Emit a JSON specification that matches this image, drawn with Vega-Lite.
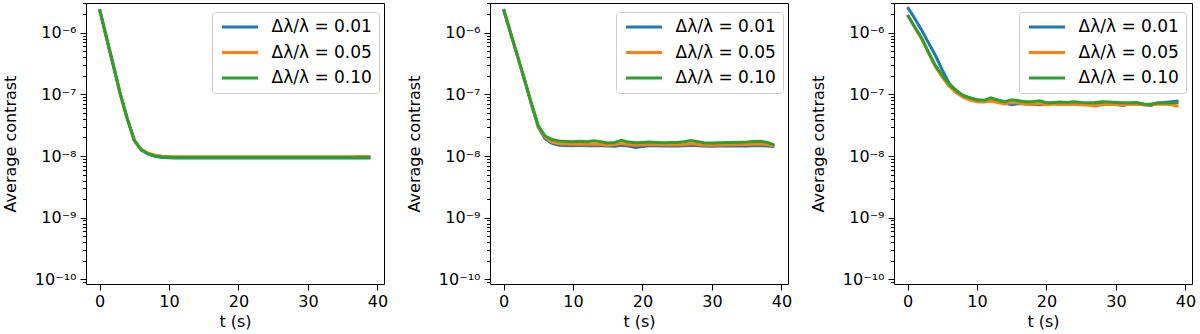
{
"$schema": "https://vega.github.io/schema/vega-lite/v6.json",
"padding": {"left": 1, "top": 0, "right": 5, "bottom": 0},
"datasets": {"d": [
{"p":1,"s":"0.01","t":0,"v":2.4e-6},{"p":1,"s":"0.01","t":1,"v":8.3e-7},{"p":1,"s":"0.01","t":2,"v":2.9e-7},{"p":1,"s":"0.01","t":3,"v":1.0e-7},{"p":1,"s":"0.01","t":4,"v":4.0e-8},{"p":1,"s":"0.01","t":5,"v":1.8e-8},{"p":1,"s":"0.01","t":6,"v":1.25e-8},{"p":1,"s":"0.01","t":7,"v":1.07e-8},{"p":1,"s":"0.01","t":8,"v":9.9e-9},{"p":1,"s":"0.01","t":9,"v":9.5e-9},
{"p":1,"s":"0.01","t":10,"v":9.4e-9},{"p":1,"s":"0.01","t":11,"v":9.3e-9},{"p":1,"s":"0.01","t":12,"v":9.3e-9},{"p":1,"s":"0.01","t":13,"v":9.3e-9},{"p":1,"s":"0.01","t":14,"v":9.3e-9},{"p":1,"s":"0.01","t":15,"v":9.25e-9},{"p":1,"s":"0.01","t":16,"v":9.3e-9},{"p":1,"s":"0.01","t":17,"v":9.3e-9},{"p":1,"s":"0.01","t":18,"v":9.25e-9},{"p":1,"s":"0.01","t":19,"v":9.3e-9},
{"p":1,"s":"0.01","t":20,"v":9.3e-9},{"p":1,"s":"0.01","t":21,"v":9.3e-9},{"p":1,"s":"0.01","t":22,"v":9.3e-9},{"p":1,"s":"0.01","t":23,"v":9.3e-9},{"p":1,"s":"0.01","t":24,"v":9.25e-9},{"p":1,"s":"0.01","t":25,"v":9.3e-9},{"p":1,"s":"0.01","t":26,"v":9.3e-9},{"p":1,"s":"0.01","t":27,"v":9.3e-9},{"p":1,"s":"0.01","t":28,"v":9.3e-9},{"p":1,"s":"0.01","t":29,"v":9.3e-9},
{"p":1,"s":"0.01","t":30,"v":9.3e-9},{"p":1,"s":"0.01","t":31,"v":9.3e-9},{"p":1,"s":"0.01","t":32,"v":9.3e-9},{"p":1,"s":"0.01","t":33,"v":9.3e-9},{"p":1,"s":"0.01","t":34,"v":9.3e-9},{"p":1,"s":"0.01","t":35,"v":9.3e-9},{"p":1,"s":"0.01","t":36,"v":9.25e-9},{"p":1,"s":"0.01","t":37,"v":9.3e-9},{"p":1,"s":"0.01","t":38,"v":9.3e-9},{"p":1,"s":"0.01","t":39,"v":9.3e-9},
{"p":1,"s":"0.05","t":0,"v":2.4e-6},{"p":1,"s":"0.05","t":1,"v":8.3e-7},{"p":1,"s":"0.05","t":2,"v":2.9e-7},{"p":1,"s":"0.05","t":3,"v":1.0e-7},{"p":1,"s":"0.05","t":4,"v":4.0e-8},{"p":1,"s":"0.05","t":5,"v":1.8e-8},{"p":1,"s":"0.05","t":6,"v":1.28e-8},{"p":1,"s":"0.05","t":7,"v":1.11e-8},{"p":1,"s":"0.05","t":8,"v":1.03e-8},{"p":1,"s":"0.05","t":9,"v":9.9e-9},
{"p":1,"s":"0.05","t":10,"v":9.8e-9},{"p":1,"s":"0.05","t":11,"v":9.75e-9},{"p":1,"s":"0.05","t":12,"v":9.7e-9},{"p":1,"s":"0.05","t":13,"v":9.7e-9},{"p":1,"s":"0.05","t":14,"v":9.7e-9},{"p":1,"s":"0.05","t":15,"v":9.7e-9},{"p":1,"s":"0.05","t":16,"v":9.7e-9},{"p":1,"s":"0.05","t":17,"v":9.7e-9},{"p":1,"s":"0.05","t":18,"v":9.7e-9},{"p":1,"s":"0.05","t":19,"v":9.7e-9},
{"p":1,"s":"0.05","t":20,"v":9.7e-9},{"p":1,"s":"0.05","t":21,"v":9.7e-9},{"p":1,"s":"0.05","t":22,"v":9.7e-9},{"p":1,"s":"0.05","t":23,"v":9.7e-9},{"p":1,"s":"0.05","t":24,"v":9.7e-9},{"p":1,"s":"0.05","t":25,"v":9.7e-9},{"p":1,"s":"0.05","t":26,"v":9.7e-9},{"p":1,"s":"0.05","t":27,"v":9.7e-9},{"p":1,"s":"0.05","t":28,"v":9.7e-9},{"p":1,"s":"0.05","t":29,"v":9.7e-9},
{"p":1,"s":"0.05","t":30,"v":9.7e-9},{"p":1,"s":"0.05","t":31,"v":9.7e-9},{"p":1,"s":"0.05","t":32,"v":9.7e-9},{"p":1,"s":"0.05","t":33,"v":9.7e-9},{"p":1,"s":"0.05","t":34,"v":9.7e-9},{"p":1,"s":"0.05","t":35,"v":9.7e-9},{"p":1,"s":"0.05","t":36,"v":9.75e-9},{"p":1,"s":"0.05","t":37,"v":9.8e-9},{"p":1,"s":"0.05","t":38,"v":9.8e-9},{"p":1,"s":"0.05","t":39,"v":9.8e-9},
{"p":1,"s":"0.10","t":0,"v":2.4e-6},{"p":1,"s":"0.10","t":1,"v":8.3e-7},{"p":1,"s":"0.10","t":2,"v":2.9e-7},{"p":1,"s":"0.10","t":3,"v":1.0e-7},{"p":1,"s":"0.10","t":4,"v":4.0e-8},{"p":1,"s":"0.10","t":5,"v":1.8e-8},{"p":1,"s":"0.10","t":6,"v":1.26e-8},{"p":1,"s":"0.10","t":7,"v":1.09e-8},{"p":1,"s":"0.10","t":8,"v":1.0e-8},{"p":1,"s":"0.10","t":9,"v":9.7e-9},
{"p":1,"s":"0.10","t":10,"v":9.55e-9},{"p":1,"s":"0.10","t":11,"v":9.5e-9},{"p":1,"s":"0.10","t":12,"v":9.45e-9},{"p":1,"s":"0.10","t":13,"v":9.45e-9},{"p":1,"s":"0.10","t":14,"v":9.45e-9},{"p":1,"s":"0.10","t":15,"v":9.45e-9},{"p":1,"s":"0.10","t":16,"v":9.45e-9},{"p":1,"s":"0.10","t":17,"v":9.45e-9},{"p":1,"s":"0.10","t":18,"v":9.45e-9},{"p":1,"s":"0.10","t":19,"v":9.45e-9},
{"p":1,"s":"0.10","t":20,"v":9.45e-9},{"p":1,"s":"0.10","t":21,"v":9.45e-9},{"p":1,"s":"0.10","t":22,"v":9.45e-9},{"p":1,"s":"0.10","t":23,"v":9.45e-9},{"p":1,"s":"0.10","t":24,"v":9.45e-9},{"p":1,"s":"0.10","t":25,"v":9.45e-9},{"p":1,"s":"0.10","t":26,"v":9.45e-9},{"p":1,"s":"0.10","t":27,"v":9.45e-9},{"p":1,"s":"0.10","t":28,"v":9.45e-9},{"p":1,"s":"0.10","t":29,"v":9.45e-9},
{"p":1,"s":"0.10","t":30,"v":9.45e-9},{"p":1,"s":"0.10","t":31,"v":9.45e-9},{"p":1,"s":"0.10","t":32,"v":9.45e-9},{"p":1,"s":"0.10","t":33,"v":9.45e-9},{"p":1,"s":"0.10","t":34,"v":9.45e-9},{"p":1,"s":"0.10","t":35,"v":9.45e-9},{"p":1,"s":"0.10","t":36,"v":9.45e-9},{"p":1,"s":"0.10","t":37,"v":9.45e-9},{"p":1,"s":"0.10","t":38,"v":9.45e-9},{"p":1,"s":"0.10","t":39,"v":9.45e-9},
{"p":2,"s":"0.01","t":0,"v":2.4e-6},{"p":2,"s":"0.01","t":1,"v":1.0e-6},{"p":2,"s":"0.01","t":2,"v":4.2e-7},{"p":2,"s":"0.01","t":3,"v":1.75e-7},{"p":2,"s":"0.01","t":4,"v":7.0e-8},{"p":2,"s":"0.01","t":5,"v":2.9e-8},{"p":2,"s":"0.01","t":6,"v":1.9e-8},{"p":2,"s":"0.01","t":7,"v":1.6e-8},{"p":2,"s":"0.01","t":8,"v":1.5e-8},{"p":2,"s":"0.01","t":9,"v":1.48e-8},
{"p":2,"s":"0.01","t":10,"v":1.47e-8},{"p":2,"s":"0.01","t":11,"v":1.49e-8},{"p":2,"s":"0.01","t":12,"v":1.47e-8},{"p":2,"s":"0.01","t":13,"v":1.48e-8},{"p":2,"s":"0.01","t":14,"v":1.46e-8},{"p":2,"s":"0.01","t":15,"v":1.45e-8},{"p":2,"s":"0.01","t":16,"v":1.44e-8},{"p":2,"s":"0.01","t":17,"v":1.5e-8},{"p":2,"s":"0.01","t":18,"v":1.45e-8},{"p":2,"s":"0.01","t":19,"v":1.38e-8},
{"p":2,"s":"0.01","t":20,"v":1.43e-8},{"p":2,"s":"0.01","t":21,"v":1.46e-8},{"p":2,"s":"0.01","t":22,"v":1.46e-8},{"p":2,"s":"0.01","t":23,"v":1.45e-8},{"p":2,"s":"0.01","t":24,"v":1.46e-8},{"p":2,"s":"0.01","t":25,"v":1.45e-8},{"p":2,"s":"0.01","t":26,"v":1.46e-8},{"p":2,"s":"0.01","t":27,"v":1.49e-8},{"p":2,"s":"0.01","t":28,"v":1.46e-8},{"p":2,"s":"0.01","t":29,"v":1.45e-8},
{"p":2,"s":"0.01","t":30,"v":1.44e-8},{"p":2,"s":"0.01","t":31,"v":1.45e-8},{"p":2,"s":"0.01","t":32,"v":1.46e-8},{"p":2,"s":"0.01","t":33,"v":1.45e-8},{"p":2,"s":"0.01","t":34,"v":1.46e-8},{"p":2,"s":"0.01","t":35,"v":1.45e-8},{"p":2,"s":"0.01","t":36,"v":1.47e-8},{"p":2,"s":"0.01","t":37,"v":1.47e-8},{"p":2,"s":"0.01","t":38,"v":1.45e-8},{"p":2,"s":"0.01","t":39,"v":1.43e-8},
{"p":2,"s":"0.05","t":0,"v":2.4e-6},{"p":2,"s":"0.05","t":1,"v":1.0e-6},{"p":2,"s":"0.05","t":2,"v":4.2e-7},{"p":2,"s":"0.05","t":3,"v":1.75e-7},{"p":2,"s":"0.05","t":4,"v":7.1e-8},{"p":2,"s":"0.05","t":5,"v":3.0e-8},{"p":2,"s":"0.05","t":6,"v":2.0e-8},{"p":2,"s":"0.05","t":7,"v":1.68e-8},{"p":2,"s":"0.05","t":8,"v":1.58e-8},{"p":2,"s":"0.05","t":9,"v":1.56e-8},
{"p":2,"s":"0.05","t":10,"v":1.55e-8},{"p":2,"s":"0.05","t":11,"v":1.57e-8},{"p":2,"s":"0.05","t":12,"v":1.55e-8},{"p":2,"s":"0.05","t":13,"v":1.56e-8},{"p":2,"s":"0.05","t":14,"v":1.53e-8},{"p":2,"s":"0.05","t":15,"v":1.5e-8},{"p":2,"s":"0.05","t":16,"v":1.53e-8},{"p":2,"s":"0.05","t":17,"v":1.6e-8},{"p":2,"s":"0.05","t":18,"v":1.54e-8},{"p":2,"s":"0.05","t":19,"v":1.5e-8},
{"p":2,"s":"0.05","t":20,"v":1.52e-8},{"p":2,"s":"0.05","t":21,"v":1.53e-8},{"p":2,"s":"0.05","t":22,"v":1.53e-8},{"p":2,"s":"0.05","t":23,"v":1.52e-8},{"p":2,"s":"0.05","t":24,"v":1.53e-8},{"p":2,"s":"0.05","t":25,"v":1.52e-8},{"p":2,"s":"0.05","t":26,"v":1.54e-8},{"p":2,"s":"0.05","t":27,"v":1.58e-8},{"p":2,"s":"0.05","t":28,"v":1.54e-8},{"p":2,"s":"0.05","t":29,"v":1.51e-8},
{"p":2,"s":"0.05","t":30,"v":1.5e-8},{"p":2,"s":"0.05","t":31,"v":1.51e-8},{"p":2,"s":"0.05","t":32,"v":1.52e-8},{"p":2,"s":"0.05","t":33,"v":1.52e-8},{"p":2,"s":"0.05","t":34,"v":1.53e-8},{"p":2,"s":"0.05","t":35,"v":1.53e-8},{"p":2,"s":"0.05","t":36,"v":1.55e-8},{"p":2,"s":"0.05","t":37,"v":1.56e-8},{"p":2,"s":"0.05","t":38,"v":1.53e-8},{"p":2,"s":"0.05","t":39,"v":1.45e-8},
{"p":2,"s":"0.10","t":0,"v":2.4e-6},{"p":2,"s":"0.10","t":1,"v":1.0e-6},{"p":2,"s":"0.10","t":2,"v":4.2e-7},{"p":2,"s":"0.10","t":3,"v":1.75e-7},{"p":2,"s":"0.10","t":4,"v":7.2e-8},{"p":2,"s":"0.10","t":5,"v":3.1e-8},{"p":2,"s":"0.10","t":6,"v":2.1e-8},{"p":2,"s":"0.10","t":7,"v":1.85e-8},{"p":2,"s":"0.10","t":8,"v":1.75e-8},{"p":2,"s":"0.10","t":9,"v":1.72e-8},
{"p":2,"s":"0.10","t":10,"v":1.7e-8},{"p":2,"s":"0.10","t":11,"v":1.74e-8},{"p":2,"s":"0.10","t":12,"v":1.71e-8},{"p":2,"s":"0.10","t":13,"v":1.76e-8},{"p":2,"s":"0.10","t":14,"v":1.7e-8},{"p":2,"s":"0.10","t":15,"v":1.62e-8},{"p":2,"s":"0.10","t":16,"v":1.66e-8},{"p":2,"s":"0.10","t":17,"v":1.8e-8},{"p":2,"s":"0.10","t":18,"v":1.68e-8},{"p":2,"s":"0.10","t":19,"v":1.64e-8},
{"p":2,"s":"0.10","t":20,"v":1.66e-8},{"p":2,"s":"0.10","t":21,"v":1.68e-8},{"p":2,"s":"0.10","t":22,"v":1.66e-8},{"p":2,"s":"0.10","t":23,"v":1.64e-8},{"p":2,"s":"0.10","t":24,"v":1.65e-8},{"p":2,"s":"0.10","t":25,"v":1.66e-8},{"p":2,"s":"0.10","t":26,"v":1.7e-8},{"p":2,"s":"0.10","t":27,"v":1.78e-8},{"p":2,"s":"0.10","t":28,"v":1.7e-8},{"p":2,"s":"0.10","t":29,"v":1.63e-8},
{"p":2,"s":"0.10","t":30,"v":1.62e-8},{"p":2,"s":"0.10","t":31,"v":1.64e-8},{"p":2,"s":"0.10","t":32,"v":1.66e-8},{"p":2,"s":"0.10","t":33,"v":1.66e-8},{"p":2,"s":"0.10","t":34,"v":1.67e-8},{"p":2,"s":"0.10","t":35,"v":1.68e-8},{"p":2,"s":"0.10","t":36,"v":1.72e-8},{"p":2,"s":"0.10","t":37,"v":1.73e-8},{"p":2,"s":"0.10","t":38,"v":1.66e-8},{"p":2,"s":"0.10","t":39,"v":1.5e-8},
{"p":3,"s":"0.01","t":0,"v":2.6e-6},{"p":3,"s":"0.01","t":1,"v":1.73e-6},{"p":3,"s":"0.01","t":2,"v":1.12e-6},{"p":3,"s":"0.01","t":3,"v":6.9e-7},{"p":3,"s":"0.01","t":4,"v":4.3e-7},{"p":3,"s":"0.01","t":5,"v":2.5e-7},{"p":3,"s":"0.01","t":6,"v":1.5e-7},{"p":3,"s":"0.01","t":7,"v":1.15e-7},{"p":3,"s":"0.01","t":8,"v":9.5e-8},{"p":3,"s":"0.01","t":9,"v":8.6e-8},
{"p":3,"s":"0.01","t":10,"v":8.1e-8},{"p":3,"s":"0.01","t":11,"v":7.8e-8},{"p":3,"s":"0.01","t":12,"v":7.9e-8},{"p":3,"s":"0.01","t":13,"v":7.6e-8},{"p":3,"s":"0.01","t":14,"v":7.2e-8},{"p":3,"s":"0.01","t":15,"v":6.8e-8},{"p":3,"s":"0.01","t":16,"v":7.1e-8},{"p":3,"s":"0.01","t":17,"v":7.0e-8},{"p":3,"s":"0.01","t":18,"v":6.9e-8},{"p":3,"s":"0.01","t":19,"v":6.8e-8},
{"p":3,"s":"0.01","t":20,"v":7.1e-8},{"p":3,"s":"0.01","t":21,"v":7.1e-8},{"p":3,"s":"0.01","t":22,"v":7.0e-8},{"p":3,"s":"0.01","t":23,"v":7.0e-8},{"p":3,"s":"0.01","t":24,"v":7.1e-8},{"p":3,"s":"0.01","t":25,"v":7.0e-8},{"p":3,"s":"0.01","t":26,"v":7.0e-8},{"p":3,"s":"0.01","t":27,"v":6.9e-8},{"p":3,"s":"0.01","t":28,"v":7.1e-8},{"p":3,"s":"0.01","t":29,"v":7.0e-8},
{"p":3,"s":"0.01","t":30,"v":6.9e-8},{"p":3,"s":"0.01","t":31,"v":6.6e-8},{"p":3,"s":"0.01","t":32,"v":7.0e-8},{"p":3,"s":"0.01","t":33,"v":7.0e-8},{"p":3,"s":"0.01","t":34,"v":6.8e-8},{"p":3,"s":"0.01","t":35,"v":6.6e-8},{"p":3,"s":"0.01","t":36,"v":7.2e-8},{"p":3,"s":"0.01","t":37,"v":7.4e-8},{"p":3,"s":"0.01","t":38,"v":7.6e-8},{"p":3,"s":"0.01","t":39,"v":7.8e-8},
{"p":3,"s":"0.05","t":0,"v":1.94e-6},{"p":3,"s":"0.05","t":1,"v":1.24e-6},{"p":3,"s":"0.05","t":2,"v":8.0e-7},{"p":3,"s":"0.05","t":3,"v":4.7e-7},{"p":3,"s":"0.05","t":4,"v":2.8e-7},{"p":3,"s":"0.05","t":5,"v":1.9e-7},{"p":3,"s":"0.05","t":6,"v":1.35e-7},{"p":3,"s":"0.05","t":7,"v":1.06e-7},{"p":3,"s":"0.05","t":8,"v":9.0e-8},{"p":3,"s":"0.05","t":9,"v":8.1e-8},
{"p":3,"s":"0.05","t":10,"v":7.6e-8},{"p":3,"s":"0.05","t":11,"v":7.5e-8},{"p":3,"s":"0.05","t":12,"v":7.8e-8},{"p":3,"s":"0.05","t":13,"v":7.4e-8},{"p":3,"s":"0.05","t":14,"v":7.0e-8},{"p":3,"s":"0.05","t":15,"v":7.4e-8},{"p":3,"s":"0.05","t":16,"v":7.2e-8},{"p":3,"s":"0.05","t":17,"v":7.0e-8},{"p":3,"s":"0.05","t":18,"v":6.9e-8},{"p":3,"s":"0.05","t":19,"v":7.1e-8},
{"p":3,"s":"0.05","t":20,"v":6.8e-8},{"p":3,"s":"0.05","t":21,"v":6.9e-8},{"p":3,"s":"0.05","t":22,"v":6.9e-8},{"p":3,"s":"0.05","t":23,"v":7.0e-8},{"p":3,"s":"0.05","t":24,"v":6.9e-8},{"p":3,"s":"0.05","t":25,"v":6.8e-8},{"p":3,"s":"0.05","t":26,"v":6.7e-8},{"p":3,"s":"0.05","t":27,"v":6.5e-8},{"p":3,"s":"0.05","t":28,"v":6.8e-8},{"p":3,"s":"0.05","t":29,"v":6.9e-8},
{"p":3,"s":"0.05","t":30,"v":6.8e-8},{"p":3,"s":"0.05","t":31,"v":6.8e-8},{"p":3,"s":"0.05","t":32,"v":6.9e-8},{"p":3,"s":"0.05","t":33,"v":6.9e-8},{"p":3,"s":"0.05","t":34,"v":6.8e-8},{"p":3,"s":"0.05","t":35,"v":6.8e-8},{"p":3,"s":"0.05","t":36,"v":6.9e-8},{"p":3,"s":"0.05","t":37,"v":7.0e-8},{"p":3,"s":"0.05","t":38,"v":6.8e-8},{"p":3,"s":"0.05","t":39,"v":6.4e-8},
{"p":3,"s":"0.10","t":0,"v":1.94e-6},{"p":3,"s":"0.10","t":1,"v":1.26e-6},{"p":3,"s":"0.10","t":2,"v":8.3e-7},{"p":3,"s":"0.10","t":3,"v":4.9e-7},{"p":3,"s":"0.10","t":4,"v":2.95e-7},{"p":3,"s":"0.10","t":5,"v":2.05e-7},{"p":3,"s":"0.10","t":6,"v":1.45e-7},{"p":3,"s":"0.10","t":7,"v":1.15e-7},{"p":3,"s":"0.10","t":8,"v":9.6e-8},{"p":3,"s":"0.10","t":9,"v":8.8e-8},
{"p":3,"s":"0.10","t":10,"v":8.2e-8},{"p":3,"s":"0.10","t":11,"v":8.0e-8},{"p":3,"s":"0.10","t":12,"v":8.8e-8},{"p":3,"s":"0.10","t":13,"v":8.1e-8},{"p":3,"s":"0.10","t":14,"v":7.6e-8},{"p":3,"s":"0.10","t":15,"v":8.2e-8},{"p":3,"s":"0.10","t":16,"v":7.9e-8},{"p":3,"s":"0.10","t":17,"v":7.6e-8},{"p":3,"s":"0.10","t":18,"v":7.6e-8},{"p":3,"s":"0.10","t":19,"v":7.9e-8},
{"p":3,"s":"0.10","t":20,"v":7.3e-8},{"p":3,"s":"0.10","t":21,"v":7.4e-8},{"p":3,"s":"0.10","t":22,"v":7.5e-8},{"p":3,"s":"0.10","t":23,"v":7.4e-8},{"p":3,"s":"0.10","t":24,"v":7.6e-8},{"p":3,"s":"0.10","t":25,"v":7.4e-8},{"p":3,"s":"0.10","t":26,"v":7.3e-8},{"p":3,"s":"0.10","t":27,"v":7.4e-8},{"p":3,"s":"0.10","t":28,"v":7.6e-8},{"p":3,"s":"0.10","t":29,"v":7.5e-8},
{"p":3,"s":"0.10","t":30,"v":7.4e-8},{"p":3,"s":"0.10","t":31,"v":7.3e-8},{"p":3,"s":"0.10","t":32,"v":7.3e-8},{"p":3,"s":"0.10","t":33,"v":7.4e-8},{"p":3,"s":"0.10","t":34,"v":7.0e-8},{"p":3,"s":"0.10","t":35,"v":6.9e-8},{"p":3,"s":"0.10","t":36,"v":7.3e-8},{"p":3,"s":"0.10","t":37,"v":7.2e-8},{"p":3,"s":"0.10","t":38,"v":7.3e-8},{"p":3,"s":"0.10","t":39,"v":7.4e-8}
]},
"data": {"name": "d"},
"spacing": 16,
"resolve": {"legend": {"color": "independent"}},
"hconcat": [
{"transform": [{"filter": "datum.p == 1"}], "width": 298, "height": 281,
 "mark": {"type": "line", "strokeWidth": 3},
 "encoding": {
  "x": {"field": "t", "type": "quantitative", "title": "t (s)", "scale": {"domain": [-1.95, 40.95], "nice": false, "zero": false}, "axis": {"values": [0,10,20,30,40], "format": "d"}},
  "y": {"field": "v", "type": "quantitative", "title": "Average contrast", "scale": {"type": "log", "domain": [8.4e-11, 3.03e-6], "nice": false},
        "axis": {"values": [9e-11,1e-10,2e-10,3e-10,4e-10,5e-10,6e-10,7e-10,8e-10,9e-10,1e-9,2e-9,3e-9,4e-9,5e-9,6e-9,7e-9,8e-9,9e-9,1e-8,2e-8,3e-8,4e-8,5e-8,6e-8,7e-8,8e-8,9e-8,1e-7,2e-7,3e-7,4e-7,5e-7,6e-7,7e-7,8e-7,9e-7,1e-6,2e-6,3e-6],
                 "labelExpr": "abs(log(datum.value)/LN10 - round(log(datum.value)/LN10)) > 0.01 ? '' : round(log(datum.value)/LN10) == -6 ? '10⁻⁶' : round(log(datum.value)/LN10) == -7 ? '10⁻⁷' : round(log(datum.value)/LN10) == -8 ? '10⁻⁸' : round(log(datum.value)/LN10) == -9 ? '10⁻⁹' : '10⁻¹⁰'",
                 "labelFontSize": {"condition": {"test": "abs(log(datum.value)/LN10 - round(log(datum.value)/LN10)) < 0.01", "value": 16}, "value": 0},
                 "tickSize": {"condition": {"test": "abs(log(datum.value)/LN10 - round(log(datum.value)/LN10)) < 0.01", "value": 6}, "value": 3.5}}},
  "color": {"field": "s", "type": "nominal", "scale": {"domain": ["0.01","0.05","0.10"], "range": ["#1f77b4","#ff7f0e","#2ca02c"]},
            "legend": {"orient": "none", "legendX": 126, "legendY": 9, "labelExpr": "'Δλ/λ = ' + datum.label"}}
 }},
{"transform": [{"filter": "datum.p == 2"}], "width": 298, "height": 281,
 "mark": {"type": "line", "strokeWidth": 3},
 "encoding": {
  "x": {"field": "t", "type": "quantitative", "title": "t (s)", "scale": {"domain": [-1.95, 40.95], "nice": false, "zero": false}, "axis": {"values": [0,10,20,30,40], "format": "d"}},
  "y": {"field": "v", "type": "quantitative", "title": "Average contrast", "scale": {"type": "log", "domain": [8.4e-11, 3.03e-6], "nice": false},
        "axis": {"values": [9e-11,1e-10,2e-10,3e-10,4e-10,5e-10,6e-10,7e-10,8e-10,9e-10,1e-9,2e-9,3e-9,4e-9,5e-9,6e-9,7e-9,8e-9,9e-9,1e-8,2e-8,3e-8,4e-8,5e-8,6e-8,7e-8,8e-8,9e-8,1e-7,2e-7,3e-7,4e-7,5e-7,6e-7,7e-7,8e-7,9e-7,1e-6,2e-6,3e-6],
                 "labelExpr": "abs(log(datum.value)/LN10 - round(log(datum.value)/LN10)) > 0.01 ? '' : round(log(datum.value)/LN10) == -6 ? '10⁻⁶' : round(log(datum.value)/LN10) == -7 ? '10⁻⁷' : round(log(datum.value)/LN10) == -8 ? '10⁻⁸' : round(log(datum.value)/LN10) == -9 ? '10⁻⁹' : '10⁻¹⁰'",
                 "labelFontSize": {"condition": {"test": "abs(log(datum.value)/LN10 - round(log(datum.value)/LN10)) < 0.01", "value": 16}, "value": 0},
                 "tickSize": {"condition": {"test": "abs(log(datum.value)/LN10 - round(log(datum.value)/LN10)) < 0.01", "value": 6}, "value": 3.5}}},
  "color": {"field": "s", "type": "nominal", "scale": {"domain": ["0.01","0.05","0.10"], "range": ["#1f77b4","#ff7f0e","#2ca02c"]},
            "legend": {"orient": "none", "legendX": 126, "legendY": 9, "labelExpr": "'Δλ/λ = ' + datum.label"}}
 }},
{"transform": [{"filter": "datum.p == 3"}], "width": 298, "height": 281,
 "mark": {"type": "line", "strokeWidth": 3},
 "encoding": {
  "x": {"field": "t", "type": "quantitative", "title": "t (s)", "scale": {"domain": [-1.95, 40.95], "nice": false, "zero": false}, "axis": {"values": [0,10,20,30,40], "format": "d"}},
  "y": {"field": "v", "type": "quantitative", "title": "Average contrast", "scale": {"type": "log", "domain": [8.4e-11, 3.03e-6], "nice": false},
        "axis": {"values": [9e-11,1e-10,2e-10,3e-10,4e-10,5e-10,6e-10,7e-10,8e-10,9e-10,1e-9,2e-9,3e-9,4e-9,5e-9,6e-9,7e-9,8e-9,9e-9,1e-8,2e-8,3e-8,4e-8,5e-8,6e-8,7e-8,8e-8,9e-8,1e-7,2e-7,3e-7,4e-7,5e-7,6e-7,7e-7,8e-7,9e-7,1e-6,2e-6,3e-6],
                 "labelExpr": "abs(log(datum.value)/LN10 - round(log(datum.value)/LN10)) > 0.01 ? '' : round(log(datum.value)/LN10) == -6 ? '10⁻⁶' : round(log(datum.value)/LN10) == -7 ? '10⁻⁷' : round(log(datum.value)/LN10) == -8 ? '10⁻⁸' : round(log(datum.value)/LN10) == -9 ? '10⁻⁹' : '10⁻¹⁰'",
                 "labelFontSize": {"condition": {"test": "abs(log(datum.value)/LN10 - round(log(datum.value)/LN10)) < 0.01", "value": 16}, "value": 0},
                 "tickSize": {"condition": {"test": "abs(log(datum.value)/LN10 - round(log(datum.value)/LN10)) < 0.01", "value": 6}, "value": 3.5}}},
  "color": {"field": "s", "type": "nominal", "scale": {"domain": ["0.01","0.05","0.10"], "range": ["#1f77b4","#ff7f0e","#2ca02c"]},
            "legend": {"orient": "none", "legendX": 125, "legendY": 9, "labelExpr": "'Δλ/λ = ' + datum.label"}}
 }}
],
"config": {
 "font": "DejaVu Sans",
 "view": {"stroke": "#000000", "strokeWidth": 1},
 "axis": {"grid": false, "domain": false, "tickColor": "#000000", "tickWidth": 1, "tickSize": 6, "labelColor": "#000000", "titleColor": "#000000", "labelFontSize": 16, "titleFontSize": 16, "titleFontWeight": "normal", "labelPadding": 4, "labelOverlap": false, "labelFlush": false},
 "axisX": {"titlePadding": 4, "labelPadding": 3},
 "axisY": {"titlePadding": 16},
 "legend": {"title": null, "symbolType": "M-1,0H6.2", "symbolSize": 100, "symbolStrokeWidth": 3, "labelFontSize": 17, "labelColor": "#000000", "labelOffset": 36, "fillColor": "rgba(255,255,255,0.8)", "strokeColor": "#cccccc", "cornerRadius": 3, "padding": 6.5, "rowPadding": 7.5}
}
}
